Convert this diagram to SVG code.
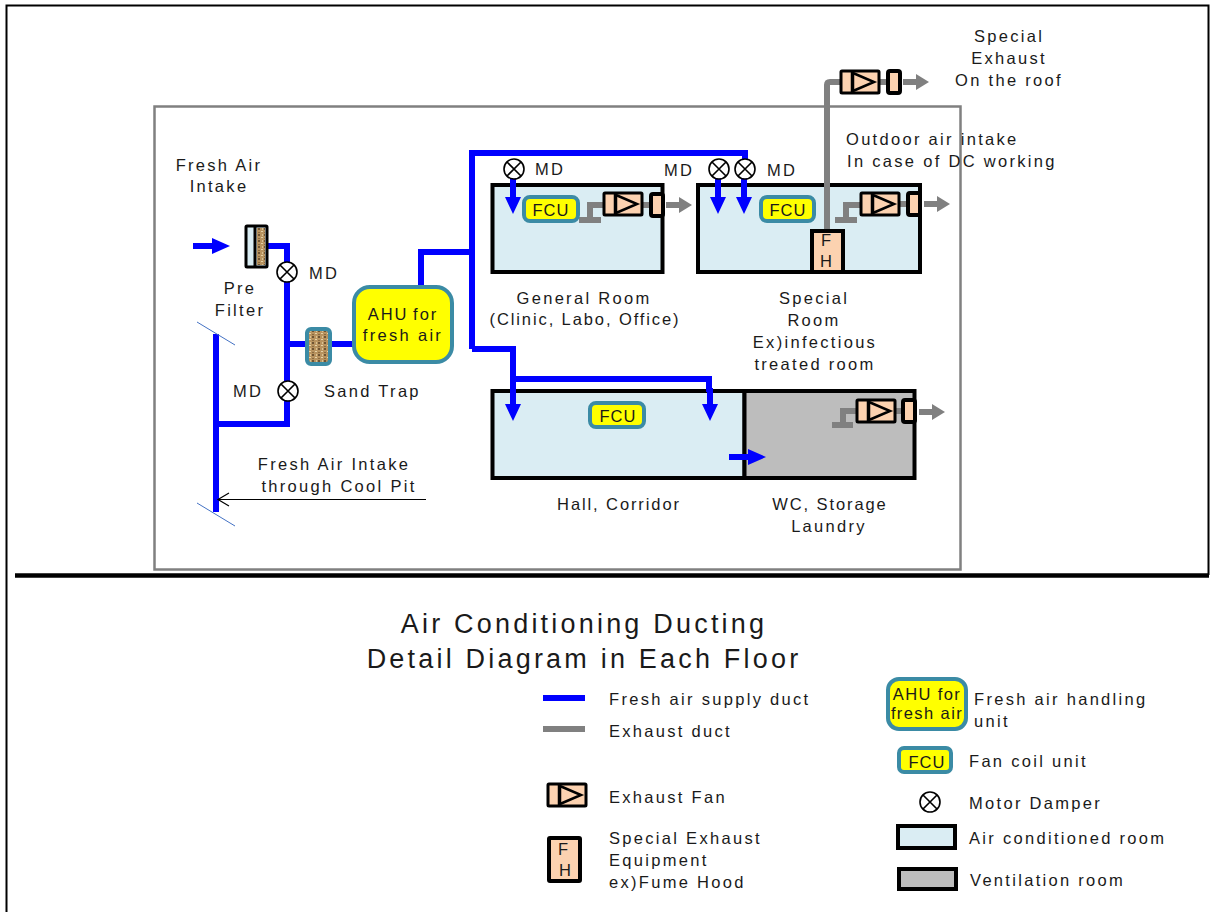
<svg xmlns="http://www.w3.org/2000/svg" width="1212" height="912" viewBox="0 0 1212 912">
<style>
text{font-family:"Liberation Sans",Arial,sans-serif;font-size:16.5px;fill:#1a1a1a;letter-spacing:2.3px}
.m{text-anchor:middle}
.c{letter-spacing:1.9px}
.u{letter-spacing:1px}
.t{font-size:27px;letter-spacing:3.2px}
.sup{fill:none;stroke:#0000ff;stroke-width:6}
.exh{fill:none;stroke:#808080;stroke-width:6}
.room{fill:#daedf3;stroke:#000;stroke-width:4}
.vent{fill:#bdbdbd;stroke:#000;stroke-width:4}
.fcu{fill:#ffff00;stroke:#3b8ba5;stroke-width:4}
.pe{fill:#fcd2b0;stroke:#000;stroke-width:3}
.peh{fill:#fcd2b0;stroke:#000;stroke-width:4}
</style>
<defs>
<pattern id="burlap" width="6" height="6" patternUnits="userSpaceOnUse">
<rect width="6" height="6" fill="#b8935f"/><rect x="0" y="0" width="2" height="2" fill="#6f5433"/><rect x="3" y="3" width="2" height="1" fill="#e6d3a8"/><rect x="4" y="0" width="1" height="2" fill="#d9c294"/><rect x="0" y="4" width="2" height="1" fill="#8a6a40"/>
</pattern>
<g id="damper"><circle r="10" fill="#fff" stroke="#000" stroke-width="1.6"/><path d="M-7-7 7 7M-7 7 7-7" stroke="#000" stroke-width="1.6"/></g>
<g id="fan"><rect x="-19" y="-11" width="38" height="22" rx="1" class="pe"/><path d="M-8-11V11" stroke="#000" stroke-width="2.5"/><path d="M-7-9 14 0-7 9Z" fill="none" stroke="#000" stroke-width="2.5"/></g>
<g id="louver"><rect x="-6" y="-11" width="12" height="22" rx="2" class="peh"/></g>
<g id="garrow"><path d="M-13-3H0V-8L13 0 0 8V3H-13Z" fill="#808080"/></g>
<g id="barrow"><path d="M-3-16H3V0H8L0 17-8 0H-3Z" fill="#0000ff"/></g>
<g id="barrowr"><path d="M-18-3H1V-8L19 0 1 8V3H-18Z" fill="#0000ff"/></g>
</defs>

<g id="frame">
<path d="M6.500 912V5.500H1208.500V575" fill="none" stroke="#000" stroke-width="2"/>
<rect x="154.500" y="106.500" width="806" height="463" fill="none" stroke="#808080" stroke-width="2.500"/>
<path d="M15 575.500H1209" stroke="#000" stroke-width="4.500"/>
</g>

<g id="rooms">
<rect id="room-general" x="492.500" y="185" width="170" height="87" class="room"/>
<rect id="room-special" x="698" y="185" width="222" height="87" class="room"/>
<rect id="room-hall" x="492.500" y="391" width="252" height="87" class="room"/>
<rect id="room-wc" x="744.500" y="391" width="170" height="87" class="vent"/>
</g>

<g id="connectors">
<path class="sup" d="M259 246H287V424H216"/>
<path class="sup" d="M216 334V512"/>
<path class="sup" d="M287 344H355"/>
<path class="sup" d="M421 288V252H472"/>
<path class="sup" d="M472 349V153H745V172"/>
<path class="sup" d="M472 349H513V392"/>
<path class="sup" d="M513 379H709V392"/>
<path class="sup" d="M513 160V196M718 160V196M744 160V196"/>
<use href="#barrow" x="513" y="197"/>
<use href="#barrow" x="718" y="197"/>
<use href="#barrow" x="744" y="197"/>
<use href="#barrow" x="513" y="404"/>
<use href="#barrow" x="710" y="404"/>
<use href="#barrowr" x="747" y="457"/>
<use href="#barrowr" x="211" y="246"/>
<path d="M197 322 235 345M197 503 235 526" stroke="#4472c4" stroke-width="1" fill="none"/>
<path d="M426 499.500H218" stroke="#000" stroke-width="1.200"/>
<path d="M229 493 218 499.500 229 506" fill="none" stroke="#000" stroke-width="1.200"/>
<path class="exh" d="M827 232V85Q827 82 830 82H842"/>
<path class="exh" d="M880 82H890"/>
<path class="exh" d="M579 220H601M590 220V205H605"/>
<path class="exh" d="M642 205H654"/>
<path class="exh" d="M835 220H857M846 220V205H862"/>
<path class="exh" d="M899 204H910"/>
<path class="exh" d="M832 425H853M843 425V411H858"/>
<path class="exh" d="M893 411H906"/>
<use href="#garrow" x="916" y="82"/>
<use href="#garrow" x="679" y="205"/>
<use href="#garrow" x="937" y="204"/>
<use href="#garrow" x="932" y="412"/>
</g>

<g id="pre-filter">
<rect x="246" y="226" width="21" height="41" rx="1" fill="#daedf3" stroke="#000" stroke-width="3"/>
<path d="M255 226V267" stroke="#000" stroke-width="3"/>
<rect x="257" y="228" width="8" height="37" fill="url(#burlap)"/>
</g>
<g id="sand-trap"><rect x="307" y="329" width="23" height="35" rx="4" fill="url(#burlap)" stroke="#3b8ba5" stroke-width="4"/></g>
<g id="ahu"><rect x="354" y="287" width="98" height="75" rx="16" class="fcu"/><text class="m" x="403" y="320" style="letter-spacing:2px;word-spacing:-2px">AHU for</text><text class="m" x="403" y="341">fresh air</text></g>

<g id="dampers">
<use href="#damper" x="287" y="272"/>
<use href="#damper" x="288" y="391"/>
<use href="#damper" x="514" y="169"/>
<use href="#damper" x="719" y="169"/>
<use href="#damper" x="745" y="169"/>
</g>

<g id="fcu-general"><rect x="524" y="197" width="54" height="24" rx="6" class="fcu"/><text class="m u" x="551" y="216">FCU</text></g>
<g id="fcu-special"><rect x="761" y="197" width="53" height="24" rx="6" class="fcu"/><text class="m u" x="788" y="216">FCU</text></g>
<g id="fcu-hall"><rect x="590" y="403" width="54" height="24" rx="6" class="fcu"/><text class="m u" x="618" y="422">FCU</text></g>

<g id="fans">
<use href="#fan" x="623" y="204"/><use href="#louver" x="657" y="205"/>
<use href="#fan" x="880" y="204"/><use href="#louver" x="914" y="204"/>
<use href="#fan" x="860" y="82"/><use href="#louver" x="894" y="82"/>
<use href="#fan" x="876" y="411"/><use href="#louver" x="909" y="411"/>
</g>

<g id="fume-hood"><rect x="812" y="231" width="31" height="41" class="peh"/><text class="m" x="826" y="246" style="letter-spacing:0">F</text><text class="m" x="826" y="267" style="letter-spacing:0">H</text></g>

<g id="labels">
<text class="m" x="1009" y="42">Special</text>
<text class="m" x="1009" y="64">Exhaust</text>
<text class="m" x="1009" y="86">On the roof</text>
<text x="846" y="145">Outdoor air intake</text>
<text x="847" y="167">In case of DC working</text>
<text class="m" x="219" y="171">Fresh Air</text>
<text class="m" x="219" y="192">Intake</text>
<text class="m" x="240" y="294">Pre</text>
<text class="m" x="240" y="316">Filter</text>
<text x="309" y="279">MD</text>
<text x="233" y="397">MD</text>
<text x="324" y="397">Sand Trap</text>
<text x="535" y="175">MD</text>
<text x="664" y="176">MD</text>
<text x="767" y="176">MD</text>
<text class="m" x="584" y="304">General Room</text>
<text class="m c" x="585" y="325">(Clinic, Labo, Office)</text>
<text class="m" x="814" y="304">Special</text>
<text class="m" x="814" y="326">Room</text>
<text class="m" x="815" y="348">Ex)infectious</text>
<text class="m" x="815" y="370">treated room</text>
<text class="m" x="334" y="470">Fresh Air Intake</text>
<text class="m" x="339" y="492">through Cool Pit</text>
<text class="m c" x="619" y="510">Hall, Corridor</text>
<text class="m c" x="830" y="510">WC, Storage</text>
<text class="m" x="829" y="532">Laundry</text>
<text class="m t" x="584" y="633">Air Conditioning  Ducting</text>
<text class="m t" x="584" y="668">Detail Diagram in Each Floor</text>
</g>

<g id="legend">
<path d="M543 698H585" stroke="#0000ff" stroke-width="6"/>
<path d="M543 729H585" stroke="#808080" stroke-width="6"/>
<text x="609" y="705">Fresh air supply duct</text>
<text x="609" y="737">Exhaust duct</text>
<use href="#fan" x="567" y="795"/>
<text x="609" y="803">Exhaust Fan</text>
<rect x="549" y="838" width="31" height="43" rx="1" class="peh"/>
<text class="m" x="563" y="855" style="letter-spacing:0">F</text><text class="m" x="565" y="876" style="letter-spacing:0">H</text>
<text x="609" y="844">Special Exhaust</text>
<text x="609" y="866">Equipment</text>
<text x="609" y="888">ex)Fume Hood</text>
<rect x="888" y="679" width="78" height="50" rx="11" class="fcu"/>
<text class="m" x="927" y="700" style="letter-spacing:1.400px">AHU for</text>
<text class="m" x="927" y="719" style="letter-spacing:1.400px">fresh air</text>
<text x="974" y="705">Fresh air handling</text>
<text x="974" y="727">unit</text>
<rect x="899" y="748" width="52" height="24" rx="5" class="fcu"/>
<text class="m u" x="927" y="768">FCU</text>
<text x="969" y="767">Fan coil unit</text>
<use href="#damper" x="930" y="802"/>
<text x="969" y="809">Motor Damper</text>
<rect x="898" y="826" width="57" height="22" class="room"/>
<text x="969" y="844">Air conditioned room</text>
<rect x="899" y="869" width="57" height="20" class="vent"/>
<text x="970" y="886">Ventilation room</text>
</g>
</svg>
